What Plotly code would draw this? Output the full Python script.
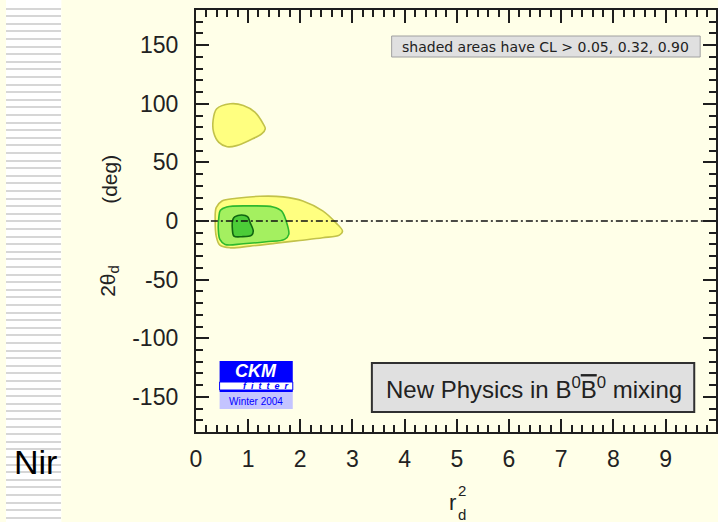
import plotly.graph_objects as go

W, H = 718, 522

# ---------------- data ----------------
x_tick_vals = [0, 1, 2, 3, 4, 5, 6, 7, 8, 9]
y_tick_vals = [-150, -100, -50, 0, 50, 100, 150]
x_tick_text = [str(v) for v in x_tick_vals]
y_tick_text = [str(v) for v in y_tick_vals]

# CL > 0.05 : upper island
cl05_up_r2 = [0.33, 0.40, 0.66, 0.91, 1.13, 1.29, 1.33, 1.26, 1.04, 0.78, 0.60, 0.44, 0.34]
cl05_up_2th = [85.7, 95.7, 100.0, 98.6, 92.9, 82.9, 78.6, 74.3, 69.1, 64.3, 63.4, 67.1, 75.7]

# CL > 0.05 : lower island
cl05_lo_r2 = [0.37, 0.39, 0.50, 0.78, 1.23, 1.67, 2.05, 2.43, 2.68, 2.81, 2.75, 2.43, 1.99,
              1.54, 1.04, 0.66, 0.46, 0.39]
cl05_lo_2th = [0.0, 11.4, 17.1, 19.4, 21.1, 20.6, 17.1, 8.6, -1.4, -8.6, -12.0, -14.3, -16.6,
               -18.9, -21.4, -22.9, -20.6, -12.9]

# CL > 0.32
cl32_r2 = [0.44, 0.47, 0.59, 1.04, 1.48, 1.64, 1.73, 1.78, 1.70, 1.35, 0.91, 0.56, 0.46, 0.43]
cl32_2th = [2.9, 9.1, 12.0, 12.9, 12.0, 8.6, 0.0, -11.4, -15.7, -17.7, -19.4, -20.0, -15.7, -7.1]

# CL > 0.90
cl90_r2 = [0.71, 0.75, 0.88, 0.99, 1.04, 1.10, 1.07, 0.88, 0.73, 0.70]
cl90_2th = [1.4, 3.7, 5.1, 3.7, -1.4, -8.6, -12.0, -13.4, -12.9, -7.1]

# Standard-model reference line
sm_r2 = [0, 10]
sm_2th = [0, 0]

# ---------------- helpers ----------------
def px(x):
    return x / W


def py(y):
    return 1 - y / H


def closed(a):
    return list(a) + [a[0]]


BG = "#FFFFE8"
AX = "#1e1e1e"
FONT = "Liberation Sans, Arial, sans-serif"

fig = go.Figure()

regions = [
    (cl05_up_r2, cl05_up_2th, "#FFFF80", "#C2C24A"),
    (cl05_lo_r2, cl05_lo_2th, "#FFFF80", "#C2C24A"),
    (cl32_r2, cl32_2th, "#A4F060", "#2EB82E"),
    (cl90_r2, cl90_2th, "#4CCC38", "#116611"),
]
for xs, ys, fc, lc in regions:
    fig.add_trace(go.Scatter(
        x=closed(xs), y=closed(ys), mode="lines", fill="toself",
        fillcolor=fc, line=dict(color=lc, width=1.6, shape="spline", smoothing=1.0),
        hoverinfo="skip", showlegend=False))

fig.add_trace(go.Scatter(
    x=sm_r2, y=sm_2th, mode="lines",
    line=dict(color="#111111", width=1.7, dash="7px,3px,2px,3px"),
    hoverinfo="skip", showlegend=False))

# "Nir" text clipped by the chart panel
fig.add_trace(go.Scatter(
    x=[8], y=[57], mode="text", text=["Nir"], textposition="middle right",
    textfont=dict(family=FONT, size=34, color="black"),
    xaxis="x2", yaxis="y2", cliponaxis=True, hoverinfo="skip", showlegend=False))

axis_common = dict(
    ticks="inside", ticklen=13, tickwidth=2, tickcolor=AX,
    showline=True, linewidth=2, linecolor=AX, mirror="allticks",
    showgrid=False, zeroline=False,
    tickfont=dict(family=FONT, size=23, color="#222222"),
)

fig.update_layout(
    width=W, height=H,
    margin=dict(l=0, r=0, t=0, b=0),
    paper_bgcolor=BG, plot_bgcolor=BG,
    showlegend=False,
    xaxis=dict(
        domain=[192 / W, 1.0], range=[0, 9.966],
        tickmode="array", tickvals=x_tick_vals, ticktext=x_tick_text,
        minor=dict(dtick=0.2, ticks="inside", ticklen=7, tickwidth=1.5, tickcolor=AX),
        ticklabelstandoff=5,
        **axis_common),
    yaxis=dict(
        domain=[1 - 432 / H, 1 - 10 / H], range=[-180, 180],
        tickmode="array", tickvals=y_tick_vals, ticktext=y_tick_text,
        minor=dict(dtick=10, ticks="inside", ticklen=7, tickwidth=1.5, tickcolor=AX),
        ticklabelstandoff=11,
        **axis_common),
    xaxis2=dict(domain=[0, 56 / W], range=[0, 56], visible=False, anchor="y2"),
    yaxis2=dict(domain=[0, 1], range=[0, H], anchor="x2",
                showgrid=True, gridcolor="#D6D6D6", gridwidth=2,
                tick0=521, dtick=7.6, showticklabels=False, ticks="",
                showline=False, zeroline=False),
)

shapes = []
# white strip behind the striped panel
shapes.append(dict(type="rect", xref="paper", yref="paper", x0=0, x1=px(56), y0=0, y1=1,
                   fillcolor="white", line=dict(width=0), layer="below"))
# CL legend box
shapes.append(dict(type="rect", xref="paper", yref="paper",
                   x0=px(390), x1=px(702), y0=py(57), y1=py(36),
                   fillcolor="#E0E0E0", line=dict(color="#A0A0A0", width=1), layer="above"))
# New physics box
shapes.append(dict(type="rect", xref="paper", yref="paper",
                   x0=px(370), x1=px(696), y0=py(412), y1=py(363),
                   fillcolor="#E0E0E0", line=dict(color="#303030", width=2), layer="above"))
# CKM logo
shapes.append(dict(type="rect", xref="paper", yref="paper",
                   x0=px(216), x1=px(290), y0=py(382), y1=py(361),
                   fillcolor="#0000FF", line=dict(width=0), layer="above"))
shapes.append(dict(type="rect", xref="paper", yref="paper",
                   x0=px(216), x1=px(290), y0=py(390), y1=py(382),
                   fillcolor="white", line=dict(color="#0000FF", width=1), layer="above"))
shapes.append(dict(type="rect", xref="paper", yref="paper",
                   x0=px(216), x1=px(290), y0=py(392), y1=py(390),
                   fillcolor="#0000FF", line=dict(width=0), layer="above"))
shapes.append(dict(type="rect", xref="paper", yref="paper",
                   x0=px(216), x1=px(290), y0=py(409), y1=py(392),
                   fillcolor="#C4C4FF", line=dict(width=0), layer="above"))
fig.update_layout(shapes=shapes)

ann = []


def note(text, x, y, size, color="#222222", angle=0, family=FONT, xanchor="center"):
    ann.append(dict(text=text, x=px(x), y=py(y), xref="paper", yref="paper",
                    showarrow=False, textangle=angle, xanchor=xanchor, yanchor="middle",
                    font=dict(family=family, size=size, color=color)))


note("shaded areas have CL &gt; 0.05, 0.32, 0.90", 546, 47, 14,
     family="DejaVu Sans, Verdana, sans-serif")
note("New Physics in B<sup>0</sup><span style='text-decoration:overline'>B</span><sup>0</sup> mixing",
     534, 388, 24)
note("<b><i>CKM</i></b>", 253, 371, 18, color="white")
note("<b><i>f  i  t  t  e  r</i></b>", 263, 386, 9, color="#0000FF")
note("Winter 2004", 253, 401, 10, color="#0000FF")
# axis titles
note("(deg)", 104, 179, 21, angle=-90)
note("2θ<sub>d</sub>", 104, 281, 21, angle=-90)
note("r", 452, 502, 22)
note("2", 461, 490, 15)
note("d", 461, 514, 15)

fig.update_layout(annotations=ann)

fig.write_html("out.html", config={"displayModeBar": False},
               post_script="document.body.style.margin='0';document.body.style.overflow='hidden';")
